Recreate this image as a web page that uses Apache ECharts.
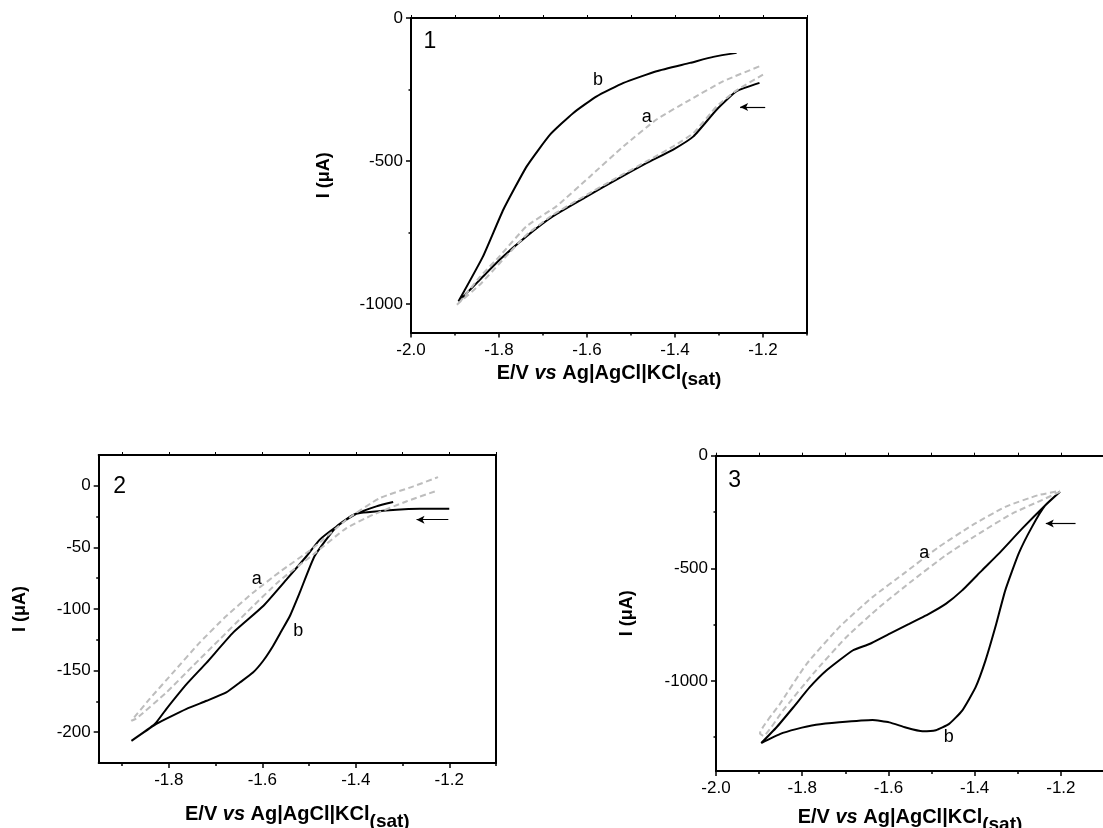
<!DOCTYPE html>
<html>
<head>
<meta charset="utf-8">
<script src="https://cdn.jsdelivr.net/npm/echarts@6/dist/echarts.min.js"></script>
<style>
  html, body { margin: 0; padding: 0; background: #fff; }
  #chart { width: 1103px; height: 828px; }
</style>
</head>
<body>
<div id="chart"></div>
<script>
// ---- Panel 1 : cyclic voltammograms, E (V) vs I (µA) ----
const p1CurveA = [
  [-1.200, -198], [-1.260, -253], [-1.305, -309], [-1.358, -402], [-1.404, -449],
  [-1.464, -501], [-1.533, -559], [-1.600, -618], [-1.677, -688], [-1.737, -758],
  [-1.798, -857], [-1.843, -932], [-1.896, -1003],
  [-1.892, -999], [-1.843, -905], [-1.798, -832], [-1.737, -728], [-1.669, -658],
  [-1.593, -554], [-1.517, -449], [-1.442, -355], [-1.366, -286], [-1.290, -221],
  [-1.208, -169]
];
const p1CurveB = [
  [-1.208, -227], [-1.260, -256], [-1.305, -320], [-1.358, -414], [-1.404, -460],
  [-1.464, -507], [-1.533, -565], [-1.600, -624], [-1.677, -693], [-1.737, -763],
  [-1.798, -845], [-1.843, -915], [-1.892, -991],
  [-1.836, -833], [-1.790, -670], [-1.737, -519], [-1.684, -408], [-1.631, -332],
  [-1.578, -274], [-1.517, -227], [-1.442, -186], [-1.366, -157], [-1.313, -136],
  [-1.260, -122]
];
const p1Notes = [[-1.957, -84, '1'], [-1.575, -217, 'b'], [-1.464, -346, 'a']];
const p1Arrow = [[-1.195, -311], [-1.252, -311]];

// ---- Panel 2 ----
const p2CurveA = [
  [-1.231, -4.6], [-1.292, -12.7], [-1.363, -23.5], [-1.420, -34.3], [-1.491, -55.8],
  [-1.563, -77], [-1.634, -103], [-1.691, -124.6], [-1.748, -146], [-1.805, -167.7],
  [-1.869, -188.8], [-1.880, -190.7],
  [-1.841, -173], [-1.791, -151.6], [-1.734, -127.3], [-1.677, -105.7], [-1.620, -86.8],
  [-1.563, -70], [-1.491, -50.4], [-1.420, -27.5], [-1.349, -10], [-1.277, -0.5],
  [-1.224, 7]
];
const p2CurveB = [
  [-1.200, -18.6], [-1.263, -18.6], [-1.313, -19.4], [-1.400, -22.7], [-1.441, -33],
  [-1.488, -57], [-1.520, -86.8], [-1.541, -105.7], [-1.559, -117.9], [-1.577, -130],
  [-1.598, -142], [-1.620, -151.6], [-1.648, -159.7], [-1.677, -167.7], [-1.719, -174.5],
  [-1.762, -181], [-1.805, -189], [-1.830, -194], [-1.880, -207],
  [-1.830, -193.4], [-1.805, -181], [-1.762, -161], [-1.719, -143.5], [-1.662, -119],
  [-1.598, -97.6], [-1.548, -76], [-1.505, -57], [-1.477, -43.7], [-1.441, -33],
  [-1.400, -23], [-1.356, -16.7], [-1.320, -13.2]
];
const p2Notes = [[-1.905, -0.5, '2'], [-1.612, -76, 'a'], [-1.523, -118, 'b']];
const p2Arrow = [[-1.202, -27.5], [-1.270, -27.5]];

// ---- Panel 3 ----
const p3CurveA = [
  [-1.202, -160], [-1.244, -197], [-1.313, -257], [-1.390, -346], [-1.467, -442],
  [-1.544, -554], [-1.621, -672], [-1.698, -806], [-1.775, -969], [-1.845, -1132],
  [-1.890, -1244],
  [-1.898, -1233], [-1.852, -1103], [-1.790, -925], [-1.714, -761], [-1.637, -628],
  [-1.560, -517], [-1.483, -405], [-1.406, -309], [-1.329, -227], [-1.252, -175],
  [-1.202, -156]
];
const p3CurveB = [
  [-1.202, -160], [-1.236, -220], [-1.267, -316], [-1.298, -435], [-1.329, -598],
  [-1.352, -761], [-1.375, -910], [-1.398, -1029], [-1.429, -1132], [-1.460, -1192],
  [-1.490, -1219], [-1.521, -1224], [-1.560, -1207], [-1.598, -1184], [-1.637, -1174],
  [-1.714, -1184], [-1.768, -1195], [-1.814, -1214], [-1.852, -1236], [-1.895, -1276],
  [-1.860, -1207], [-1.821, -1118], [-1.783, -1029], [-1.744, -954], [-1.683, -865],
  [-1.644, -836], [-1.598, -791], [-1.552, -747], [-1.506, -702], [-1.467, -658],
  [-1.429, -598], [-1.383, -509], [-1.344, -435], [-1.290, -324], [-1.236, -220],
  [-1.202, -160]
];
const p3Notes = [[-1.957, -109, '3'], [-1.517, -433, 'a'], [-1.460, -1250, 'b']];
const p3Arrow = [[-1.166, -301], [-1.235, -301]];

// ---- Tick values ----
const xMajorA = [-2.0, -1.8, -1.6, -1.4, -1.2];
const xMajorB = [-1.8, -1.6, -1.4, -1.2];
const xMinor = [-1.9, -1.7, -1.5, -1.3, -1.1];
const yMajor1 = [-1000, -500, 0];
const yMinor1 = [-750, -250];
const yMajor2 = [-200, -150, -100, -50, 0];
const yMinor2 = [-175, -125, -75, -25];
const yMajor3 = [-1000, -500, 0];
const yMinor3 = [-1250, -750, -250];

const FONT = '"Liberation Sans", Arial, Helvetica, sans-serif';
const BLACK = '#000';
const GREY = '#bdbdbd';

const grids = [
  { left: 411, top: 18, width: 396, height: 314.5 },
  { left: 98.7, top: 455, width: 397.3, height: 308 },
  { left: 716, top: 455.7, width: 388, height: 315.3 }
].map(g => Object.assign({ containLabel: false, outerBoundsMode: 'none', show: false }, g));

const xTitle = {
  name: '{m|E/V }{i|vs}{m| Ag|AgCl|KCl}{s|(sat)}',
  nameLocation: 'middle',
  nameTextStyle: {
    rich: {
      m: { fontFamily: FONT, fontSize: 20, fontWeight: 'bold', color: BLACK },
      i: { fontFamily: FONT, fontSize: 20, fontWeight: 'bold', fontStyle: 'italic', color: BLACK },
      s: { fontFamily: FONT, fontSize: 19, fontWeight: 'bold', color: BLACK, padding: [14, 0, 0, 0] }
    }
  }
};

const xAxes = [];
const yAxes = [];

function addPanelAxes(gi, xr, xMajor, yr, yMajor, yMinorVals, xGap, yGap) {
  const inRange = v => v >= xr[0] - 1e-9 && v <= xr[1] + 1e-9;
  const xMinorIn = xMinor.filter(inRange);
  const xAll = xMajor.concat(xMinorIn);
  // bottom axis with labels and major ticks
  xAxes.push(Object.assign({
    gridIndex: gi, type: 'value', min: xr[0], max: xr[1], position: 'bottom',
    nameGap: xGap,
    axisLine: { show: true, onZero: false, lineStyle: { color: BLACK, width: 2 } },
    axisTick: { show: true, inside: false, length: 5, lineStyle: { color: BLACK, width: 1.5 }, customValues: xMajor },
    axisLabel: { show: true, customValues: xMajor, margin: 9, color: BLACK, fontFamily: FONT, fontSize: 17,
                 formatter: v => Number(v).toFixed(1) },
    splitLine: { show: false }
  }, xTitle));
  // bottom minor ticks
  xAxes.push({
    gridIndex: gi, type: 'value', min: xr[0], max: xr[1], position: 'bottom',
    axisLine: { show: false, onZero: false },
    axisTick: { show: true, inside: false, length: 3, lineStyle: { color: BLACK, width: 1.5 }, customValues: xMinorIn },
    axisLabel: { show: false }, splitLine: { show: false }
  });
  // top frame with small ticks
  xAxes.push({
    gridIndex: gi, type: 'value', min: xr[0], max: xr[1], position: 'top',
    axisLine: { show: true, onZero: false, lineStyle: { color: BLACK, width: 2 } },
    axisTick: { show: true, inside: false, length: 3, lineStyle: { color: BLACK, width: 1 }, customValues: xAll },
    axisLabel: { show: false }, splitLine: { show: false }
  });
  // left axis with labels and major ticks
  yAxes.push({
    gridIndex: gi, type: 'value', min: yr[0], max: yr[1], position: 'left',
    name: 'I (\u03bcA)', nameLocation: 'middle', nameGap: yGap,
    nameTextStyle: { fontFamily: FONT, fontSize: 18, fontWeight: 'bold', color: BLACK },
    axisLine: { show: true, onZero: false, lineStyle: { color: BLACK, width: 2 } },
    axisTick: { show: true, inside: false, length: 5, lineStyle: { color: BLACK, width: 1.5 }, customValues: yMajor },
    axisLabel: { show: true, customValues: yMajor, margin: 8, color: BLACK, fontFamily: FONT, fontSize: 17,
                 formatter: v => String(v) },
    splitLine: { show: false }
  });
  // left minor ticks
  yAxes.push({
    gridIndex: gi, type: 'value', min: yr[0], max: yr[1], position: 'left',
    axisLine: { show: false, onZero: false },
    axisTick: { show: true, inside: false, length: 2.5, lineStyle: { color: BLACK, width: 1.5 }, customValues: yMinorVals },
    axisLabel: { show: false }, splitLine: { show: false }
  });
  // right frame
  yAxes.push({
    gridIndex: gi, type: 'value', min: yr[0], max: yr[1], position: 'right',
    axisLine: { show: true, onZero: false, lineStyle: { color: BLACK, width: 2 } },
    axisTick: { show: false }, axisLabel: { show: false }, splitLine: { show: false }
  });
}

addPanelAxes(0, [-2.0, -1.1], xMajorA, [-1100, 0], yMajor1, yMinor1, 24, 78);
addPanelAxes(1, [-1.95, -1.1], xMajorB, [-225, 25], yMajor2, yMinor2, 35, 70);
addPanelAxes(2, [-2.0, -1.1], xMajorA, [-1400, 0], yMajor3, yMinor3, 30, 80);

function panelSeries(gi, curveA, curveB, notes, arrow) {
  const xi = gi * 3, yi = gi * 3;
  return [
    {
      type: 'line', xAxisIndex: xi, yAxisIndex: yi, data: curveB, showSymbol: false, symbol: 'none',
      smooth: 0.15, lineStyle: { color: BLACK, width: 2 }, z: 3
    },
    {
      type: 'line', xAxisIndex: xi, yAxisIndex: yi, data: curveA, showSymbol: false, symbol: 'none',
      smooth: 0.15, lineStyle: { color: GREY, width: 2, type: [6, 3.5] }, z: 4
    },
    {
      type: 'scatter', xAxisIndex: xi, yAxisIndex: yi, symbolSize: 1,
      itemStyle: { color: 'rgba(255,255,255,0)' }, z: 6,
      data: notes.map(n => ({
        value: [n[0], n[1]],
        label: {
          show: true, position: 'inside', formatter: n[2], color: BLACK, opacity: 1,
          textBorderWidth: 0, fontFamily: FONT,
          fontSize: /\d/.test(n[2]) ? 23 : 18
        }
      }))
    },
    {
      type: 'line', xAxisIndex: xi, yAxisIndex: yi, data: [], z: 5,
      markLine: {
        silent: true, animation: false, symbolSize: [6, 8],
        lineStyle: { color: BLACK, width: 1.2, type: 'solid' },
        label: { show: false },
        data: [[{ coord: arrow[0], symbol: 'none' }, { coord: arrow[1], symbol: 'arrow' }]]
      }
    }
  ];
}

const chart = echarts.init(document.getElementById('chart'), null, { renderer: 'canvas' });
chart.setOption({
  animation: false,
  backgroundColor: '#fff',
  grid: grids,
  xAxis: xAxes,
  yAxis: yAxes,
  series: [].concat(
    panelSeries(0, p1CurveA, p1CurveB, p1Notes, p1Arrow),
    panelSeries(1, p2CurveA, p2CurveB, p2Notes, p2Arrow),
    panelSeries(2, p3CurveA, p3CurveB, p3Notes, p3Arrow)
  )
});
</script>
</body>
</html>
